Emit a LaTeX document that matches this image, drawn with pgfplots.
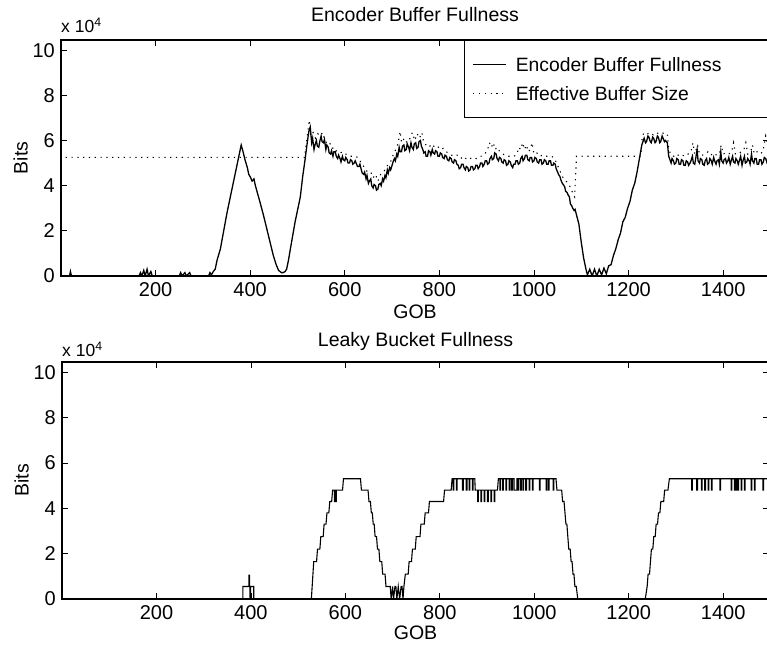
\documentclass[border=0pt]{standalone}
\usepackage{fontspec}
\setmainfont{Liberation Sans}
\usepackage{pgfplots}
\pgfplotsset{compat=1.18}
\begin{document}
\fontsize{18}{22}\selectfont
\begin{tikzpicture}[x=1pt,y=1pt]
\useasboundingbox (0,0) rectangle (767,647);
\pgfplotsset{myax/.style={
  scale only axis, xmin=0, xmax=1497, ymin=0, ymax=10.45,
  clip mode=individual,
  xtick={200,400,600,800,1000,1200,1400},
  xticklabels={200,400,600,800,1000,1200,1400},
  ytick={0,2,4,6,8,10},
  yticklabels={0,2,4,6,8,10},
  tick pos=both, xticklabel pos=lower, yticklabel pos=left,
  tick align=inside, major tick length=6pt,
  tick style={line width=0.8pt, black},
  axis line style={line width=1.1pt},
  ticklabel style={font=\fontsize{20}{24}\selectfont},
  label style={font=\fontsize{19.5}{23}\selectfont},
  title style={font=\fontsize{19.5}{23}\selectfont},
  ylabel style={at={(axis description cs:-0.057,0.5)}, anchor=center},
  xlabel={GOB}, ylabel={Bits},
}}
% ---------------- top -----------------
\begin{axis}[myax, width=708pt, height=236pt, at={(61pt,371pt)}, anchor=south west,
  xlabel style={at={(axis description cs:0.5,-0.1525)}, anchor=center},
  title={Encoder Buffer Fullness},
  title style={at={(axis description cs:0.5,1)}, anchor=base, yshift=12.3pt},
  legend style={at={(axis description cs:0.5692,1)}, anchor=north west,
    draw=black, line width=1.1pt, font=\fontsize{19.3}{23}\selectfont,
    inner xsep=8pt, inner ysep=14pt, row sep=9.4pt, column sep=9pt,
    nodes={inner xsep=0pt, inner ysep=3pt, text height=14pt, text depth=0pt},
    cells={anchor=west}},
  legend image code/.code={\draw[#1] (0pt,0pt) -- (33pt,0pt);},
]
\addplot[black, no markers, line width=1.3pt] coordinates {
(0,0)(18,0)(20,0.2)(22,0)(165,0)(168,0.15)(171,0)(175,0.25)(178,0)(182,0.3)(185,0)(190,0.2)(193,0)
(250,0)(253,0.15)(256,0)(262,0.15)(265,0)(272,0.15)(275,0)(312,0)(315,0.15)(318,0.05)(322,0.2)(326,0.3)
(330,0.7)(337,1.2)(344,2.0)(351,2.8)(356,3.3)(361,3.8)(367,4.4)(372,4.9)(377,5.4)(381,5.8)(385,5.5)
(389,5.15)(394,4.8)(397,4.5)(400,4.4)(404,4.2)(408,4.3)(411,4.0)(415,3.7)(421,3.25)(428,2.7)(435,2.1)
(442,1.5)(449,0.9)(455,0.5)(460,0.25)(466,0.15)(470,0.15)(474,0.2)(477,0.3)(481,0.7)(485,1.2)(490,1.8)
(495,2.4)(500,2.9)(506,3.5)(511,4.4)(516,5.15)(520,5.8)(524,6.4)(527,6.6)
(530,5.9)(532,6.1)(535,5.6)(537,5.8)(540,6.0)(542,5.75)(545,5.7)(547,5.95)(550,6.2)(552,5.95)(555,5.9)(557,6.05)(560,5.6)(562,5.8)(565,5.7)(567,5.45)(570,5.4)(572,5.55)(575,5.3)(577,5.5)(580,5.5)
(582,5.3)(585,5.2)(587,5.35)(590,5.2)(592,5.05)(595,5.3)(597,5.15)(600,5.1)(602,5.25)(605,5.15)(607,5.0)(610,5.0)(612,5.15)(615,5.1)(617,4.95)(620,5.0)(622,5.1)(625,4.95)(627,4.85)(630,4.85)(632,4.95)(635,4.7)
(637,4.55)(640,4.5)(642,4.6)(645,4.3)(647,4.45)(650,4.1)(652,4.2)(655,4.3)(657,4.0)(660,3.9)(662,4.05)(665,4.0)(667,3.8)(670,3.85)(672,4.05)(675,4.1)(677,4.0)(680,4.3)(682,4.2)(685,4.45)(687,4.35)(690,4.7)
(692,4.55)(695,4.8)(697,4.7)(700,4.9)(702,5.05)(705,5.2)(707,5.1)(710,5.4)(712,5.3)(715,5.7)(717,5.5)(720,5.5)(722,5.75)(725,5.8)(727,5.55)(730,5.6)(732,5.85)(735,5.7)(737,5.55)(740,5.9)(742,5.7)(745,5.6)
(747,5.85)(750,5.9)(752,5.65)(755,5.7)(757,5.95)(760,6.0)(762,5.75)(765,5.6)(767,5.45)(770,5.5)(772,5.3)(775,5.3)(777,5.55)(780,5.5)(782,5.35)(785,5.6)(787,5.45)(790,5.4)(792,5.55)(795,5.5)(797,5.3)(800,5.3)
(802,5.45)(805,5.4)(807,5.25)(810,5.2)(812,5.35)(815,5.3)(817,5.15)(820,5.1)(822,5.25)(825,5.2)(827,5.05)(830,5.0)(832,5.15)(835,5.1)(837,4.95)(840,4.9)(842,4.75)(845,4.8)(847,4.95)(850,4.95)(852,4.8)(855,4.7)
(857,4.85)(860,4.8)(862,4.65)(865,4.7)(867,4.85)(870,4.85)(872,4.7)(875,4.75)(877,4.9)(880,4.9)(882,4.75)(885,4.85)(887,5.0)(890,5.0)(892,4.85)(895,4.95)(897,5.1)(900,5.1)(902,4.95)(905,5.0)(907,5.2)(910,5.3)
(912,5.15)(915,5.2)(917,5.45)(920,5.4)(922,5.2)(925,5.1)(927,5.25)(930,5.2)(932,5.05)(935,5.0)(937,5.15)(940,5.1)(942,4.9)(945,4.95)(947,5.1)(950,5.05)(952,4.9)(955,4.8)(957,4.95)(960,4.95)(962,5.1)(965,5.1)
(967,4.95)(970,5.0)(972,5.2)(975,5.3)(977,5.1)(980,5.2)(982,5.35)(985,5.35)(987,5.15)(990,5.1)(992,5.25)(995,5.25)(997,5.05)(1000,5.1)(1002,5.25)(1005,5.2)(1007,5.05)(1010,5.0)(1012,5.15)(1015,5.15)
(1017,4.95)(1020,5.0)(1022,5.15)(1025,5.1)(1027,4.95)(1030,4.95)(1032,5.1)(1035,5.1)(1037,4.9)(1040,4.9)(1042,5.0)(1045,4.95)(1047,4.75)(1050,4.6)(1052,4.5)(1055,4.4)(1057,4.25)(1060,4.1)(1062,4.05)(1065,3.95)
(1067,3.75)(1070,3.7)(1072,3.6)(1075,3.5)(1077,3.2)(1080,3.1)(1082,3.0)(1085,2.9)(1087,2.95)(1090,2.7)(1095,2.3)(1100,1.5)(1105,0.8)(1110,0.3)(1113,0.05)
(1118,0.3)(1123,0.0)(1128,0.3)(1133,0.0)(1138,0.3)(1143,0.05)(1148,0.35)(1153,0.1)(1158,0.45)(1163,0.5)
(1168,0.9)(1173,1.2)(1178,1.6)(1183,1.9)(1188,2.4)(1193,2.6)(1198,3.0)(1203,3.3)(1208,3.8)(1213,4.1)
(1218,4.6)(1223,5.2)(1228,5.8)(1233,6.1)(1236,5.9)(1238,5.95)(1241,6.2)(1243,6.15)(1246,5.95)(1248,5.9)(1251,6.15)(1253,6.1)(1256,5.9)(1258,5.95)(1261,6.2)(1263,6.15)
(1266,5.9)(1268,5.95)(1271,6.2)(1273,6.1)(1276,5.95)(1278,6.0)(1282,5.9)(1285,5.3)(1290,5.0)(1292,5.2)(1295,5.1)(1297,4.95)(1300,5.0)(1302,5.2)(1305,5.15)(1307,4.95)(1310,4.95)
(1312,5.15)(1315,5.1)(1317,4.9)(1320,4.9)(1322,5.1)(1325,5.05)(1327,4.9)(1330,5.0)(1332,5.1)(1335,5.3)(1337,5.0)(1340,4.95)(1342,5.2)(1345,5.6)(1347,5.1)(1350,5.0)(1352,5.2)(1355,5.15)(1357,4.95)(1360,4.9)
(1362,5.1)(1365,5.2)(1367,4.95)(1370,5.0)(1372,5.2)(1375,5.1)(1377,4.95)(1380,5.25)(1382,5.1)(1385,4.95)(1387,5.1)(1390,5.15)(1392,4.95)(1395,5.5)(1397,5.1)(1400,5.0)(1402,5.15)(1405,5.2)(1407,5.0)(1410,5.1)
(1412,5.25)(1415,4.95)(1417,5.1)(1420,5.3)(1422,5.05)(1425,5.0)(1427,5.2)(1430,5.1)(1432,4.95)(1435,5.15)(1437,5.3)(1440,4.9)(1442,5.1)(1445,5.3)(1447,5.0)(1450,5.05)(1452,5.2)(1455,5.1)(1457,4.95)(1460,5.4)
(1462,5.1)(1465,5.0)(1467,5.2)(1470,5.2)(1472,4.95)(1475,4.95)(1477,5.15)(1480,5.15)(1482,4.95)(1485,5.05)(1487,5.25)(1490,5.2)(1493,5.0)(1497,5.1)
};
\addlegendentry{\makebox[260pt][l]{Encoder Buffer Fullness}}
\addplot[black, no markers, line width=1.1pt, dash pattern=on 1.2pt off 4.6pt] coordinates {
(10,5.25)(515,5.25)(519,5.9)(525,6.9)(528,6.2)(533,6.35)(538,6.1)(543,6.3)(548,6.2)(553,6.35)(558,6.0)
(563,5.85)(568,5.9)(573,5.65)(578,5.7)(583,5.5)(590,5.45)(597,5.5)(605,5.35)(612,5.3)(620,5.3)(628,5.25)
(635,5.0)(642,4.8)(648,4.6)(655,4.6)(660,4.35)(665,4.5)(670,4.2)(676,4.5)(682,4.6)(688,4.8)(693,5.0)
(698,5.1)(703,5.4)(708,5.6)(713,5.9)(717,6.4)(720,5.9)(726,6.1)(732,5.9)(738,6.1)(743,6.35)(748,6.0)
(753,6.3)(758,6.1)(763,6.35)(767,5.9)(772,5.8)(778,5.7)(784,5.85)(790,5.7)(796,5.75)(802,5.6)(808,5.65)
(814,5.5)(820,5.45)(826,5.35)(832,5.3)(838,5.35)(845,5.2)(852,5.3)(858,5.15)(865,5.2)(872,5.25)(878,5.2)
(884,5.3)(890,5.3)(896,5.4)(902,5.6)(906,5.9)(910,5.7)(914,5.9)(918,5.6)(922,5.7)(928,5.5)(934,5.4)
(940,5.35)(946,5.3)(952,5.3)(958,5.3)(964,5.4)(968,5.7)(972,5.6)(976,5.9)(980,5.6)(984,5.8)(988,5.5)
(992,5.6)(996,5.9)(1000,5.4)(1006,5.45)(1012,5.3)(1018,5.35)(1024,5.3)(1030,5.3)(1036,5.3)(1042,5.25)
(1048,5.0)(1054,4.7)(1060,4.4)(1066,4.25)(1072,4.1)(1078,3.9)(1083,3.6)(1086,3.5)(1088,4.4)(1090,5.3)
(1226,5.3)(1229,6.2)(1233,6.35)(1240,6.3)(1246,6.35)(1252,6.25)(1258,6.35)(1264,6.3)(1270,6.35)(1276,6.3)
(1282,6.3)(1285,5.6)(1290,5.35)(1296,5.3)(1302,5.4)(1308,5.3)(1314,5.35)(1320,5.3)(1326,5.4)(1332,5.5)
(1336,5.9)(1340,5.4)(1346,5.8)(1350,5.4)(1356,5.35)(1362,5.4)(1368,5.5)(1374,5.35)(1380,5.45)(1386,5.35)
(1392,5.4)(1396,5.8)(1400,5.4)(1406,5.45)(1412,5.4)(1418,5.5)(1422,5.9)(1426,5.4)(1432,5.4)(1438,5.5)
(1444,5.6)(1448,5.9)(1452,5.4)(1458,5.5)(1462,5.8)(1466,5.4)(1472,5.5)(1478,5.4)(1484,5.5)(1490,6.2)(1497,5.6)
};
\addlegendentry{\makebox[260pt][l]{Effective Buffer Size}}
\node[anchor=base west, font=\fontsize{17.5}{21}\selectfont, inner sep=0pt] at (rel axis cs:0,1) [yshift=7pt] {x 10\textsuperscript{4}};
\end{axis}
% ---------------- bottom -----------------
\begin{axis}[myax, width=707pt, height=237pt, at={(62pt,48pt)}, anchor=south west,
  xlabel style={at={(axis description cs:0.5,-0.1435)}, anchor=center},
  title={Leaky Bucket Fullness},
  title style={at={(axis description cs:0.5,1)}, anchor=base, yshift=9pt},
]
\addplot[black, no markers, line width=1.1pt] coordinates {
(0,0)(383,0)(383,0.55)(396,0.55)(396,1.05)(397,1.05)(397,0.55)(398,0.55)(398,0.05)(399.5,0.05)(399.5,0.55)(406,0.55)(406,0)
(528,0)(533,1.65)(539,1.65)(541,2.2)(546,2.2)(548,2.75)(553,2.75)(555,3.3)(559,3.3)(561,3.8)(565,3.8)
(567,4.3)(571,4.3)(573,4.8)(577,4.8)(577,4.3)(578.5,4.3)(578.5,4.8)(580,4.8)(580,4.3)(581,4.3)(581,4.8)
(594,4.8)(596,5.3)(632,5.3)(634,4.8)(648,4.8)(650,4.3)(653,4.3)(655,3.8)(657,3.8)(659,3.3)(661,3.3)
(663,2.75)(666,2.75)(668,2.2)(671,2.2)(673,1.65)(677,1.65)(679,1.1)(684,1.1)(686,0.55)(695,0.55)(697,0)
(700,0.55)(702,0)(705,0.55)(707,0.55)(709,0)(712,0.55)(715,0)(718,0.55)(720,0.55)(722,0)(724,0.55)
(727,1.1)(733,1.1)(735,1.65)(740,1.65)(742,2.2)(748,2.2)(750,2.75)(758,2.75)(760,3.3)(767,3.3)(769,3.8)
(776,3.8)(778,4.3)(808,4.3)(810,4.8)(824,4.8)(826,5.3)
(828,5.3)(828,4.8)(829.5,4.8)(829.5,5.3)(835,5.3)(835,4.8)(836.5,4.8)(836.5,5.3)
(848,5.3)(848,4.8)(849.5,4.8)(849.5,5.3)(856,5.3)(856,4.8)(857.5,4.8)(857.5,5.3)
(862,5.3)(862,4.8)(863.5,4.8)(863.5,5.3)(869,5.3)(869,4.8)(870.5,4.8)(870.5,5.3)
(874,5.3)(875,4.8)
(880,4.8)(880,4.3)(881.5,4.3)(881.5,4.8)(887,4.8)(887,4.3)(888.5,4.3)(888.5,4.8)
(894,4.8)(894,4.3)(895.5,4.3)(895.5,4.8)(901,4.8)(901,4.3)(902.5,4.3)(902.5,4.8)
(908,4.8)(908,4.3)(909.5,4.3)(909.5,4.8)(915,4.8)(915,4.3)(916.5,4.3)(916.5,4.8)
(922,4.8)(924,5.3)
(927,5.3)(927,4.8)(928.5,4.8)(928.5,5.3)(933,5.3)(933,4.8)(934.5,4.8)(934.5,5.3)
(940,5.3)(940,4.8)(941.5,4.8)(941.5,5.3)(947,5.3)(947,4.8)(948.5,4.8)(948.5,5.3)
(952,5.3)(952,4.8)(953.5,4.8)(953.5,5.3)(957,5.3)(957,4.8)(963,4.8)(963,5.3)
(966,5.3)(966,4.8)(967.5,4.8)(967.5,5.3)(971,5.3)(971,4.8)(972.5,4.8)(972.5,5.3)
(976,5.3)(976,4.8)(977.5,4.8)(977.5,5.3)(982,5.3)(982,4.8)(983.5,4.8)(983.5,5.3)
(989,5.3)(989,4.8)(990.5,4.8)(990.5,5.3)(996,5.3)(996,4.8)(997.5,4.8)(997.5,5.3)
(1011,5.3)(1011,4.8)(1012.5,4.8)(1012.5,5.3)(1025,5.3)(1025,4.8)(1026.5,4.8)(1026.5,5.3)
(1030,5.3)(1030,4.8)(1031.5,4.8)(1031.5,5.3)(1040,5.3)(1040,4.8)(1041.5,4.8)(1041.5,5.3)
(1046,5.3)(1048,4.8)(1058,4.8)(1060,4.3)(1063,4.3)(1065,3.8)(1067,3.3)(1069,3.3)(1071,2.75)(1073,2.2)
(1076,2.2)(1078,1.65)(1080,1.65)(1082,1.1)(1084,1.1)(1086,0.55)(1089,0.55)(1092,0)
(1235,0)(1239,0.55)(1241,1.1)(1244,1.1)(1246,1.65)(1248,2.2)(1251,2.2)(1253,2.75)(1256,2.75)(1258,3.3)
(1261,3.3)(1263,3.8)(1266,3.8)(1268,4.3)(1274,4.3)(1276,4.8)(1283,4.8)(1286,5.3)
(1333,5.3)(1333,4.8)(1334.5,4.8)(1334.5,5.3)(1344,5.3)(1344,4.8)(1345.5,4.8)(1345.5,5.3)
(1354,5.3)(1354,4.8)(1355.5,4.8)(1355.5,5.3)(1361,5.3)(1361,4.8)(1362.5,4.8)(1362.5,5.3)
(1368,5.3)(1368,4.8)(1369.5,4.8)(1369.5,5.3)(1375,5.3)(1375,4.8)(1376.5,4.8)(1376.5,5.3)
(1393,5.3)(1393,4.8)(1394.5,4.8)(1394.5,5.3)(1417,5.3)(1417,4.8)(1418.5,4.8)(1418.5,5.3)
(1424,5.3)(1424,4.8)(1425.5,4.8)(1425.5,5.3)(1427,5.3)(1427,4.8)(1428.5,4.8)(1428.5,5.3)
(1431,5.3)(1431,4.8)(1432.5,4.8)(1432.5,5.3)(1438,5.3)(1438,4.8)(1439.5,4.8)(1439.5,5.3)
(1445,5.3)(1445,4.8)(1446.5,4.8)(1446.5,5.3)(1459,5.3)(1459,4.8)(1460.5,4.8)(1460.5,5.3)
(1466,5.3)(1466,4.8)(1467.5,4.8)(1467.5,5.3)(1484,5.3)(1484,4.8)(1485.5,4.8)(1485.5,5.3)(1497,5.3)
};
\node[anchor=base west, font=\fontsize{17.5}{21}\selectfont, inner sep=0pt] at (rel axis cs:0,1) [yshift=5pt] {x 10\textsuperscript{4}};
\end{axis}
\end{tikzpicture}
\end{document}
